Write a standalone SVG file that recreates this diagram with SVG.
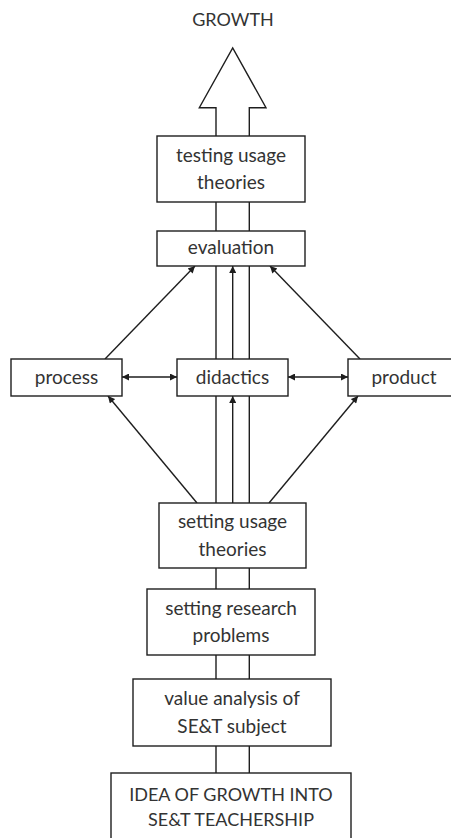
<svg xmlns="http://www.w3.org/2000/svg" width="451" height="838" viewBox="0 0 451 838">
  <style>
    .box { fill: #ffffff; stroke: #1e1e1e; stroke-width: 1.4; }
    .lbl { font-family: Lato, "Liberation Sans", sans-serif; font-size: 19px; fill: #333333; text-anchor: middle; }
    .caps { font-size: 18px; }
    .edge { stroke: #1e1e1e; stroke-width: 1.4; fill: none; }
    .shaft { stroke: #1e1e1e; stroke-width: 1.4; fill: #ffffff; }
  </style>
  <defs>
    <marker id="head" viewBox="0 0 10 10" refX="10" refY="5" markerWidth="9" markerHeight="7" markerUnits="userSpaceOnUse" orient="auto-start-reverse">
      <path d="M0,0 L10,5 L0,10 z" fill="#1e1e1e"/>
    </marker>
  </defs>
  <rect width="451" height="838" fill="#ffffff"/>

  <!-- growth arrow running up through the stack -->
  <g id="growth-arrow">
    <path class="shaft" d="M216,780 V107.7 H199.3 L232.7,48 L266,107.7 H249.3 V780"/>
    <text class="lbl caps" x="233" y="26">GROWTH</text>
  </g>

  <!-- connectors -->
  <g id="connectors">
    <line class="edge" x1="105" y1="359" x2="195" y2="266" marker-end="url(#head)"/>
    <line class="edge" x1="360" y1="359" x2="270" y2="266" marker-end="url(#head)"/>
    <line class="edge" x1="232.7" y1="359" x2="232.7" y2="266" marker-end="url(#head)"/>
    <line class="edge" x1="197" y1="503" x2="108" y2="396" marker-end="url(#head)"/>
    <line class="edge" x1="269" y1="503" x2="358" y2="396" marker-end="url(#head)"/>
    <line class="edge" x1="232.7" y1="503" x2="232.7" y2="396" marker-end="url(#head)"/>
    <line class="edge" x1="122" y1="377" x2="177" y2="377" marker-start="url(#head)" marker-end="url(#head)"/>
    <line class="edge" x1="288" y1="377" x2="348" y2="377" marker-start="url(#head)" marker-end="url(#head)"/>
  </g>

  <g id="testing">
    <rect class="box" x="157" y="136" width="148" height="66"/>
    <text class="lbl" x="231" y="162">testing usage</text>
    <text class="lbl" x="231" y="189">theories</text>
  </g>
  <g id="evaluation">
    <rect class="box" x="157" y="231" width="148" height="35"/>
    <text class="lbl" x="231" y="254">evaluation</text>
  </g>
  <g id="process">
    <rect class="box" x="11" y="359" width="111" height="37"/>
    <text class="lbl" x="66.5" y="384">process</text>
  </g>
  <g id="didactics">
    <rect class="box" x="177" y="359" width="111" height="37"/>
    <text class="lbl" x="232.5" y="384">didactics</text>
  </g>
  <g id="product">
    <rect class="box" x="348" y="359" width="111" height="37"/>
    <text class="lbl" x="404" y="384">product</text>
  </g>
  <g id="setting-usage">
    <rect class="box" x="159" y="503" width="147" height="65"/>
    <text class="lbl" x="232.5" y="528">setting usage</text>
    <text class="lbl" x="232.5" y="556">theories</text>
  </g>
  <g id="setting-research">
    <rect class="box" x="147" y="589" width="168" height="66"/>
    <text class="lbl" x="231" y="615">setting research</text>
    <text class="lbl" x="231" y="642">problems</text>
  </g>
  <g id="value-analysis">
    <rect class="box" x="133" y="679" width="198" height="67"/>
    <text class="lbl" x="232" y="705">value analysis of</text>
    <text class="lbl" x="232" y="733">SE&amp;T subject</text>
  </g>
  <g id="idea">
    <rect class="box" x="111" y="773" width="240" height="80"/>
    <text class="lbl caps" x="231" y="801">IDEA OF GROWTH INTO</text>
    <text class="lbl caps" x="231" y="826">SE&amp;T TEACHERSHIP</text>
  </g>
</svg>
